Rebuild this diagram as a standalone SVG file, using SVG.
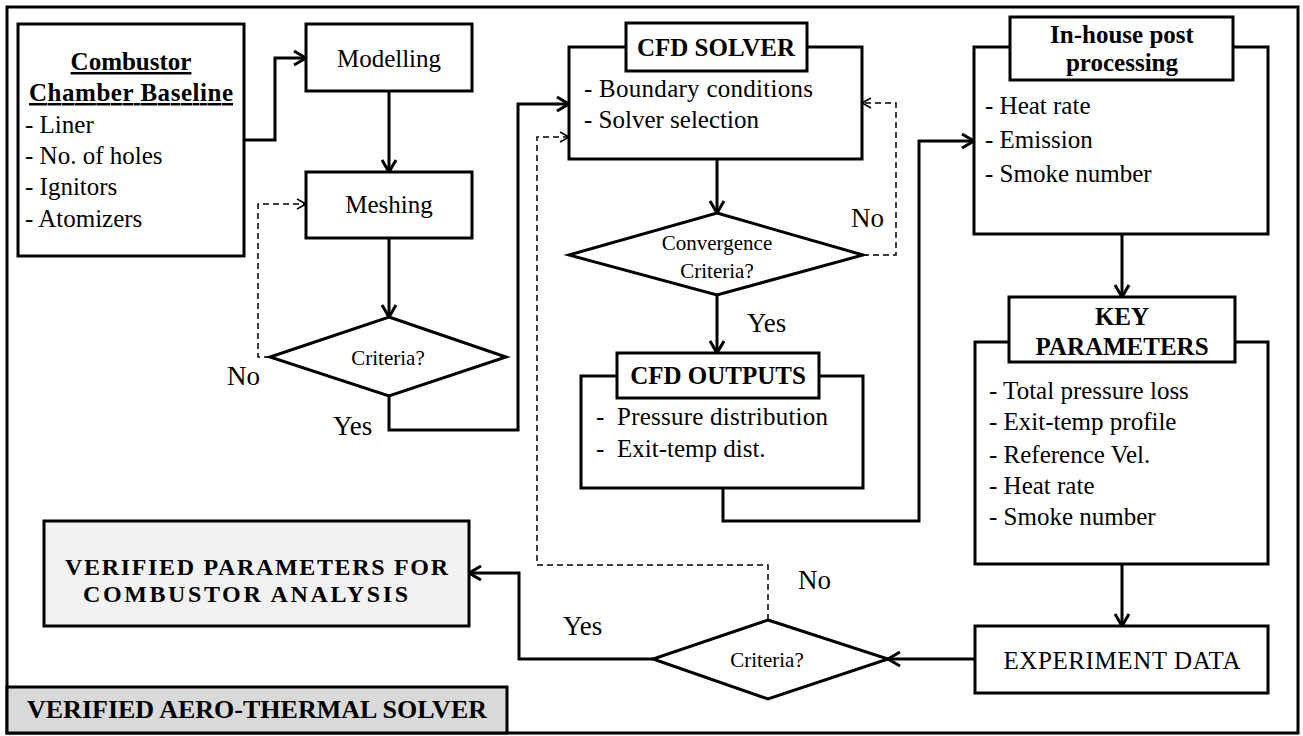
<svg xmlns="http://www.w3.org/2000/svg" width="1303" height="736" viewBox="0 0 1303 736" font-family="Liberation Serif, DejaVu Serif, serif">
<style>
  .box { fill: #ffffff; stroke: #000; stroke-width: 3; }
  .t { font-size: 25px; fill: #000; }
  .b { font-weight: bold; }
  .c { text-anchor: middle; }
  .d { font-size: 21px; }
  .lbl { font-size: 27px; }
  .con { fill: none; stroke: #000; stroke-width: 3; stroke-linejoin: miter; }
  .dash { fill: none; stroke: #000; stroke-width: 1.5; stroke-dasharray: 6 4; }
</style>
<defs>
  <marker id="arr" markerUnits="userSpaceOnUse" markerWidth="18" markerHeight="18" refX="14" refY="9" orient="auto">
    <path d="M2,2 L14,9 L2,16" fill="none" stroke="#000" stroke-width="3"/>
  </marker>
  <marker id="arrd" markerUnits="userSpaceOnUse" markerWidth="14" markerHeight="14" refX="11" refY="7" orient="auto">
    <path d="M2,2 L11,7 L2,12" fill="none" stroke="#000" stroke-width="1.5"/>
  </marker>
</defs>
<rect x="0" y="0" width="1303" height="736" fill="#ffffff"/>
<rect id="frame" x="7" y="7" width="1291" height="726" fill="none" stroke="#000" stroke-width="3"/>

<g id="connectors">
  <path class="con" d="M244,140 H275 V58 H306" marker-end="url(#arr)"/>
  <path class="con" d="M389,91 V172" marker-end="url(#arr)"/>
  <path class="con" d="M389,238 V317" marker-end="url(#arr)"/>
  <path class="dash" d="M270,357 H258 V204 H306" marker-end="url(#arrd)"/>
  <path class="con" d="M389,396 V430 H518 V104 H569" marker-end="url(#arr)"/>
  <path class="con" d="M717,159 V213" marker-end="url(#arr)"/>
  <path class="dash" d="M863,255 H896 V103 H862" marker-end="url(#arrd)"/>
  <path class="con" d="M717,295 V353" marker-end="url(#arr)"/>
  <path class="con" d="M723,488 V521 H919 V141 H974" marker-end="url(#arr)"/>
  <path class="con" d="M1122,234 V297" marker-end="url(#arr)"/>
  <path class="con" d="M1122,564 V626" marker-end="url(#arr)"/>
  <path class="con" d="M975,659 H888" marker-end="url(#arr)"/>
  <path class="con" d="M653,659 H519 V573 H469" marker-end="url(#arr)"/>
  <path class="dash" d="M768,620 V565 H537 V137 H569" marker-end="url(#arrd)"/>
  <text class="t lbl" x="227" y="385">No</text>
  <text class="t lbl" x="333" y="435">Yes</text>
  <text class="t lbl" x="851" y="227">No</text>
  <text class="t lbl" x="747" y="332">Yes</text>
  <text class="t lbl" x="798" y="589">No</text>
  <text class="t lbl" x="563" y="635">Yes</text>
</g>

<g id="combustor">
  <rect class="box" x="18" y="24" width="226" height="232"/>
  <text class="t b c" x="131" y="70" text-decoration="underline">Combustor</text>
  <text class="t b c" x="131" y="101" text-decoration="underline" textLength="204">Chamber Baseline</text>
  <text class="t" x="25" y="133">- Liner</text>
  <text class="t" x="25" y="164">- No. of holes</text>
  <text class="t" x="25" y="195">- Ignitors</text>
  <text class="t" x="25" y="227">- Atomizers</text>
</g>

<g id="modelling">
  <rect class="box" x="306" y="24" width="166" height="67"/>
  <text class="t c" x="389" y="67">Modelling</text>
</g>

<g id="meshing">
  <rect class="box" x="306" y="172" width="166" height="66"/>
  <text class="t c" x="389" y="213">Meshing</text>
</g>

<g id="criteria1">
  <polygon class="box" points="389,317 506,357 389,396 270,357"/>
  <text class="t d c" x="388" y="365">Criteria?</text>
</g>

<g id="cfd-solver">
  <rect class="box" x="569" y="47" width="293" height="112"/>
  <rect class="box" x="626" y="23" width="181" height="48"/>
  <text class="t b c" x="716" y="56">CFD SOLVER</text>
  <text class="t" x="584" y="97" textLength="229">- Boundary  conditions</text>
  <text class="t" x="584" y="128">- Solver selection</text>
</g>

<g id="convergence">
  <polygon class="box" points="717,213 863,255 717,295 569,255"/>
  <text class="t d c" x="717" y="250">Convergence</text>
  <text class="t d c" x="717" y="278">Criteria?</text>
</g>

<g id="cfd-outputs">
  <rect class="box" x="581" y="376" width="282" height="112"/>
  <rect class="box" x="617" y="353" width="202" height="45"/>
  <text class="t b c" x="718" y="384">CFD OUTPUTS</text>
  <text class="t" x="596" y="425">-<tspan x="617" textLength="211">Pressure distribution</tspan></text>
  <text class="t" x="596" y="457">-<tspan x="617">Exit-temp dist.</tspan></text>
</g>

<g id="post-processing">
  <rect class="box" x="974" y="47" width="294" height="187"/>
  <rect class="box" x="1010" y="17" width="223" height="63"/>
  <text class="t b c" x="1122" y="43">In-house post</text>
  <text class="t b c" x="1122" y="71">processing</text>
  <text class="t" x="985" y="114">- Heat rate</text>
  <text class="t" x="985" y="148">- Emission</text>
  <text class="t" x="985" y="182">- Smoke number</text>
</g>

<g id="key-parameters">
  <rect class="box" x="975" y="342" width="293" height="222"/>
  <rect class="box" x="1009" y="297" width="226" height="65"/>
  <text class="t b c" x="1122" y="325">KEY</text>
  <text class="t b c" x="1122" y="355">PARAMETERS</text>
  <text class="t" x="989" y="399">- Total pressure loss</text>
  <text class="t" x="989" y="430">- Exit-temp profile</text>
  <text class="t" x="989" y="463">- Reference Vel.</text>
  <text class="t" x="989" y="494">- Heat rate</text>
  <text class="t" x="989" y="525">- Smoke number</text>
</g>

<g id="experiment-data">
  <rect class="box" x="975" y="626" width="293" height="67"/>
  <text class="t c" x="1122" y="669" textLength="237">EXPERIMENT DATA</text>
</g>

<g id="criteria2">
  <polygon class="box" points="768,620 888,659 768,699 653,659"/>
  <text class="t d c" x="767" y="667">Criteria?</text>
</g>

<g id="verified-parameters">
  <rect x="44" y="521" width="425" height="105" fill="#f2f2f2" stroke="#000" stroke-width="3"/>
  <text class="t b" x="65" y="575" style="font-size:24px" textLength="383">VERIFIED PARAMETERS FOR</text>
  <text class="t b" x="83" y="602" style="font-size:24px" textLength="325">COMBUSTOR ANALYSIS</text>
</g>

<g id="aero-thermal-solver">
  <rect x="7" y="687" width="500" height="46" fill="#d9d9d9" stroke="#000" stroke-width="3"/>
  <text class="t b" x="27" y="718" style="font-size:26px" textLength="460">VERIFIED AERO-THERMAL SOLVER</text>
</g>
</svg>
